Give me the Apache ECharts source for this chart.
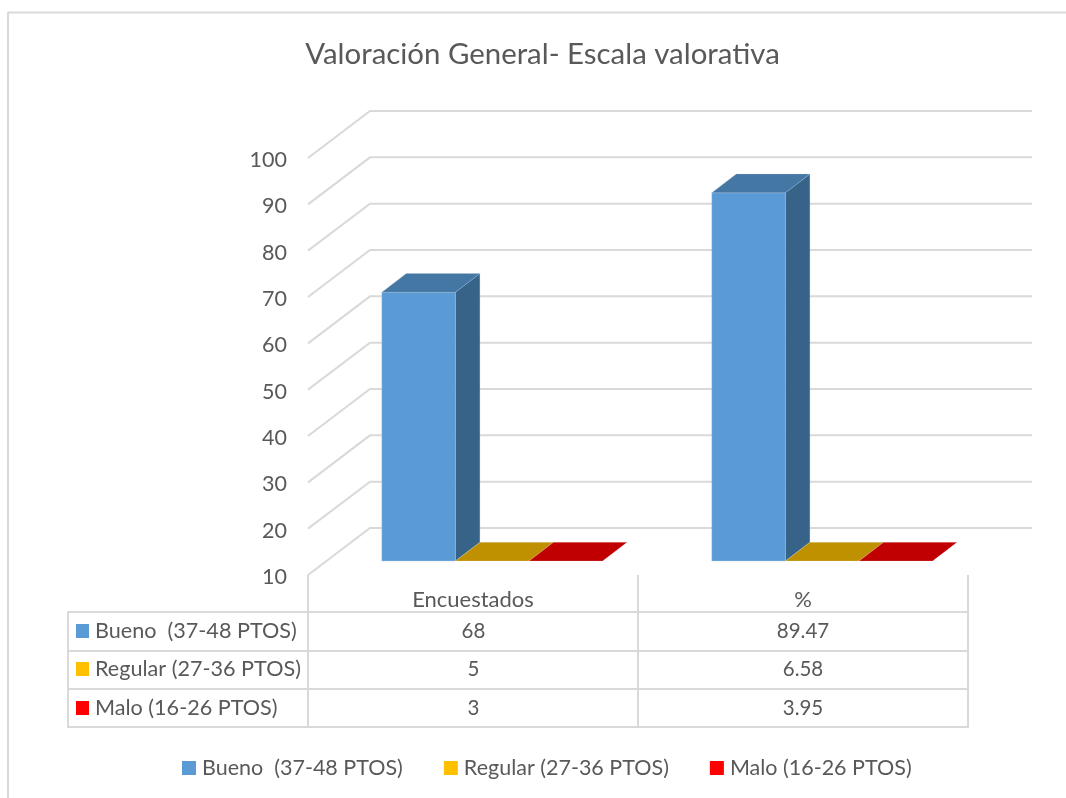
<!DOCTYPE html>
<html><head><meta charset="utf-8">
<style>html,body{margin:0;padding:0;background:#fff}#c{width:1066px;height:798px}</style>
<script src="https://cdn.jsdelivr.net/npm/echarts@6/dist/echarts.min.js"></script>
</head><body><div id="c"></div>
<script>
const titleText = 'Valoración General- Escala valorativa';
const categories = ['Encuestados', '%'];
const yTicks = [10,20,30,40,50,60,70,80,90,100];
const seriesNames = ['Bueno  (37-48 PTOS)', 'Regular (27-36 PTOS)', 'Malo (16-26 PTOS)'];
const bueno = [68, 89.47];
const regular = [5, 6.58];
const malo = [3, 3.95];
const font = 'Lato';
const textColor = '#595959';
const lineColor = '#d9d9d9';
const palette = [
  {front:'#5B9BD5', top:'#4477A3', side:'#376389'},
  {front:'#FFC000', top:'#BF9000', side:'#8F6C00'},
  {front:'#FF0000', top:'#C00000', side:'#900000'}
];
const chart = echarts.init(document.getElementById('c'), null, {renderer:'canvas'});

const gridLeft = 308, gridWidth = 660, gridTop = 158, gridHeight = 417;
const wallDx = 62, wallDy = 47, wallWidth = 662;
const barW = 73.6, barDx = 24.5, barDy = 18.7;
const planeDx = 19.2, planeDy = 14;

function barSeries(idx) {
  const src = [bueno, regular, malo][idx];
  const c = palette[idx];
  return {
    type:'custom', name:seriesNames[idx], z:3, silent:true,
    data: src.map((v,i)=>[i,v]),
    itemStyle:{color:c.front},
    renderItem(params, api) {
      const i = api.value(0), v = Math.max(api.value(1), yTicks[0]);
      const top = api.coord([i, v]), base = api.coord([i, yTicks[0]]);
      const x0 = top[0] + planeDx - 1.5 * barW + idx * barW;
      const x1 = x0 + barW;
      const yT = top[1] - planeDy, yB = base[1] - planeDy;
      const ch = [];
      if (yB - yT > 0.5) {
        ch.push({type:'polygon', shape:{points:[[x1,yT],[x1+barDx,yT-barDy],[x1+barDx,yB-barDy],[x1,yB]]},
          style:{fill:c.side, stroke:'rgba(169,198,227,0.5)', lineWidth:0.5}});
        ch.push({type:'rect', shape:{x:x0,y:yT,width:barW,height:yB-yT},
          style:{fill:c.front, stroke:'rgba(169,201,232,0.6)', lineWidth:0.6}});
      }
      ch.push({type:'polygon', shape:{points:[[x0,yT],[x1,yT],[x1+barDx,yT-barDy],[x0+barDx,yT-barDy]]},
        style:{fill:c.top, stroke:yB - yT > 0.5 ? 'rgba(169,198,227,0.5)' : 'rgba(255,255,255,0.35)', lineWidth:0.5}});
      return {type:'group', children:ch};
    }
  };
}

const graphics = [];
function line(x1,y1,x2,y2,w){ graphics.push({type:'line', silent:true, z:1, shape:{x1,y1,x2,y2}, style:{stroke:lineColor, lineWidth:w||2}}); }
// outer chart frame
line(8,12.5,1066,12.5); line(8,12,8,798);
// data table rules
[612,651,689,727].forEach(y=>line(68,y,969,y));
line(68,611,68,728);
[308,638,968].forEach(x=>line(x,575,x,728));
// data table cells
const rowY = [631,669,708];
const colX = [473.5,803];
const labelFont = 21.6, valueFont = 20.5;
[bueno,regular,malo].forEach((vals,r)=>{
  graphics.push({type:'rect', silent:true, z:2, shape:{x:76,y:rowY[r]-7,width:13,height:14}, style:{fill:palette[r].front}});
  graphics.push({type:'text', silent:true, z:2, x:95, y:rowY[r], style:{text:seriesNames[r], font:labelFont+'px '+font, fill:textColor, textAlign:'left', textVerticalAlign:'middle'}});
  vals.forEach((v,c)=>graphics.push({type:'text', silent:true, z:2, x:colX[c], y:rowY[r], style:{text:String(v), font:valueFont+'px '+font, fill:textColor, textAlign:'center', textVerticalAlign:'middle'}}));
});

chart.setOption({
  animation:false,
  backgroundColor:'#fff',
  title:{text:titleText, left:537.5, top:35, textAlign:'center',
    textStyle:{fontFamily:font, fontSize:29.4, fontWeight:'normal', color:textColor}},
  grid:{left:gridLeft, top:gridTop, width:gridWidth, height:gridHeight},
  xAxis:{type:'category', data:categories, axisLine:{show:false}, axisTick:{show:false}, splitLine:{show:false},
    axisLabel:{margin:14, fontFamily:font, fontSize:22, color:textColor}},
  yAxis:{type:'value', min:10, max:100, interval:10, axisLine:{show:false}, axisTick:{show:false}, splitLine:{show:false},
    axisLabel:{margin:21, color:textColor, formatter:'{t|{value}}',
      rich:{t:{fontFamily:font, fontSize:21.5, color:textColor, padding:[4,0,0,0]}}}},
  legend:{left:177, top:752, itemWidth:14, itemHeight:14, itemGap:41, icon:'rect', data:seriesNames,
    selectedMode:false, textStyle:{fontFamily:font, fontSize:21.5, color:textColor, padding:[0,0,0,1]}},
  graphic:graphics,
  series:[
    {type:'custom', name:'walls', silent:true, z:1, data:yTicks.map(v=>[0,v]),
     renderItem(params, api){
       const y = api.coord([0, api.value(1)])[1];
       const x0 = params.coordSys.x;
       return {type:'polyline', shape:{points:[[x0,y],[x0+wallDx,y-wallDy],[x0+wallDx+wallWidth,y-wallDy]]},
         style:{stroke:lineColor, lineWidth:2, fill:null}};
     }},
    barSeries(0), barSeries(1), barSeries(2)
  ]
});
</script></body></html>
